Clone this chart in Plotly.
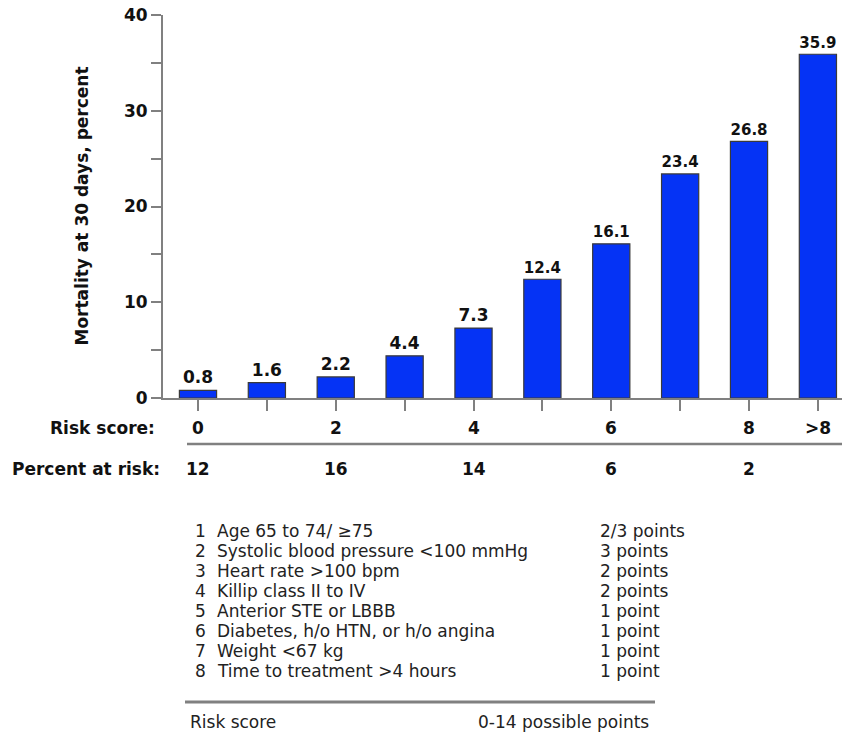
import plotly.graph_objects as go

# Mortality at 30 days by risk score
bar_positions = list(range(10))
mortality = [0.8, 1.6, 2.2, 4.4, 7.3, 12.4, 16.1, 23.4, 26.8, 35.9]

risk_score_labels = ["0", "", "2", "", "4", "", "6", "", "8", ">8"]
percent_at_risk = ["12", "", "16", "", "14", "", "6", "", "2", ""]

risk_factors = [
    "Age 65 to 74/ \u226575",
    "Systolic blood pressure <100 mmHg",
    "Heart rate >100 bpm",
    "Killip class II to IV",
    "Anterior STE or LBBB",
    "Diabetes, h/o HTN, or h/o angina",
    "Weight <67 kg",
    "Time to treatment >4 hours",
]
factor_points = [
    "2/3 points", "3 points", "2 points", "2 points",
    "1 point", "1 point", "1 point", "1 point",
]

W, H = 842, 733
PLOT_L, PLOT_R, PLOT_T, PLOT_B = 163, 842, 15, 398
FONT = "DejaVu Sans"
AXIS_GRAY = "#808080"
BOLD_SIZE = 17
TABLE_SIZE = 17

bold_font = dict(family=FONT, size=BOLD_SIZE, color="#111111", weight="bold")
table_font = dict(family=FONT, size=TABLE_SIZE, color="#222222")


def px_x(px):
    return (px - PLOT_L) / (PLOT_R - PLOT_L)


def px_y(py):
    return (PLOT_B - py) / (PLOT_B - PLOT_T)


def note(text, x, y, font, xanchor="left", xref="paper", **kw):
    return dict(x=x, y=y, xref=xref, yref="paper", text=text, showarrow=False,
                xanchor=xanchor, yanchor="middle", font=font, **kw)


fig = go.Figure()
fig.add_trace(go.Bar(
    x=bar_positions,
    y=mortality,
    width=0.54,
    marker=dict(color="#0533f5", line=dict(color="#3a3a3a", width=1.2)),
    text=[f"{v:.1f}" for v in mortality],
    textposition="outside",
    textfont=bold_font,
    cliponaxis=False,
    hoverinfo="skip",
))

annotations = []

# Y-axis title
annotations.append(note("Mortality at 30 days, percent", px_x(81), 0.5,
                        bold_font, xanchor="center", textangle=-90))

# Row headers beneath the axis
annotations.append(note("Risk score:", px_x(157), px_y(428), bold_font, xanchor="right"))
annotations.append(note("Percent at risk:", px_x(162), px_y(469), bold_font, xanchor="right"))

for xi, lab in zip(bar_positions, risk_score_labels):
    if lab:
        annotations.append(note(lab, xi, px_y(428), bold_font, xanchor="center", xref="x"))
for xi, lab in zip(bar_positions, percent_at_risk):
    if lab:
        annotations.append(note(lab, xi, px_y(469), bold_font, xanchor="center", xref="x"))

# Risk factor table
row_y0, row_step = 531, 20
for i, (factor, pts) in enumerate(zip(risk_factors, factor_points)):
    py = row_y0 + i * row_step
    annotations.append(note(str(i + 1), px_x(193), px_y(py), table_font))
    annotations.append(note(factor, px_x(215), px_y(py), table_font))
    annotations.append(note(pts, px_x(598), px_y(py), table_font))

annotations.append(note("Risk score", px_x(188), px_y(722), table_font))
annotations.append(note("0-14 possible points", px_x(476), px_y(722), table_font))

shapes = [
    # rule between the risk score and percent-at-risk rows
    dict(type="line", xref="paper", yref="paper",
         x0=px_x(187), x1=1.0, y0=px_y(444), y1=px_y(444),
         line=dict(color=AXIS_GRAY, width=2.5)),
    # rule above the total line of the table
    dict(type="line", xref="paper", yref="paper",
         x0=px_x(185), x1=px_x(655), y0=px_y(702), y1=px_y(702),
         line=dict(color=AXIS_GRAY, width=3)),
]

fig.update_layout(
    width=W, height=H,
    margin=dict(l=PLOT_L, r=W - PLOT_R, t=PLOT_T, b=H - PLOT_B, pad=0),
    plot_bgcolor="white", paper_bgcolor="white",
    showlegend=False,
    annotations=annotations,
    shapes=shapes,
    xaxis=dict(
        range=[-0.508, 9.35],
        tickvals=bar_positions,
        showticklabels=False,
        ticks="outside", ticklen=11, tickwidth=2, tickcolor=AXIS_GRAY,
        showline=True, linecolor=AXIS_GRAY, linewidth=2,
        showgrid=False, zeroline=False, fixedrange=True,
    ),
    yaxis=dict(
        range=[0, 40],
        tickvals=[0, 10, 20, 30, 40],
        ticks="outside", ticklen=10, tickwidth=2, tickcolor=AXIS_GRAY,
        minor=dict(tickvals=[5, 15, 25, 35], ticks="outside", ticklen=10,
                   tickwidth=2, tickcolor=AXIS_GRAY, showgrid=False),
        tickfont=bold_font,
        showline=True, linecolor=AXIS_GRAY, linewidth=2,
        showgrid=False, zeroline=False, fixedrange=True,
    ),
)

fig.write_html("out.html")
